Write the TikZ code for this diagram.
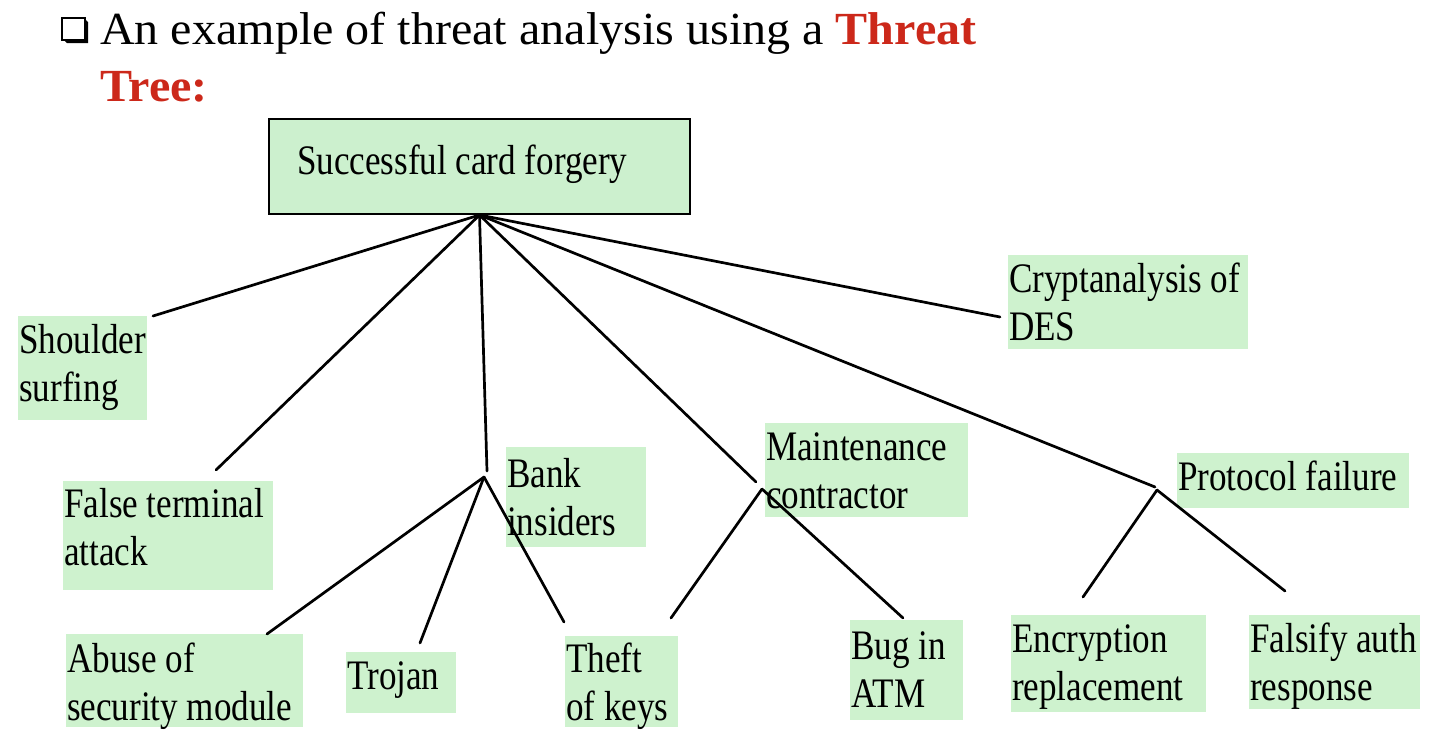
\documentclass[tikz,border=0pt]{standalone}
\usepackage{fontspec}
\setmainfont{Liberation Serif}
% condensed face for the tree labels, slightly wide face for the heading
\newfontfamily\diagfont{Liberation Serif}[FakeStretch=0.835]
\newfontfamily\headfont{Liberation Serif}[FakeStretch=1.045]
\definecolor{leaf}{RGB}{206,242,206}
\definecolor{rootfill}{RGB}{204,240,206}
\definecolor{headred}{RGB}{204,40,26}
\begin{document}
\begin{tikzpicture}[x=1pt,y=-1pt,
  plainspaces/.style={execute at begin node={\spaceskip=0pt\xspaceskip=0pt\relax}},
  leafbox/.style={fill=leaf, anchor=north west, inner xsep=1pt, inner ysep=0pt,
    align=left, plainspaces, font=\diagfont\fontsize{42}{48}\selectfont},
  link/.style={line width=2.7pt, line cap=round}]
\useasboundingbox (0,0) rectangle (1453,737);
\fill[white] (0,0) rectangle (1453,737);

% heading with its shadowed square bullet
\fill (64,40) -- (85,40) -- (85,19) -- (88,22) -- (88,43) -- (67,43) -- cycle;
\draw[line width=1.8pt] (62,18) rectangle (85,40);
\node[anchor=north west, inner sep=0pt, text width=900pt, text height=44pt,
  align=left, plainspaces, font=\headfont\fontsize{46}{57}\selectfont] (title) at (100,0)
  {An example of threat analysis using a \textcolor{headred}{\textbf{Threat}}\\
   \textcolor{headred}{\textbf{Tree:}}};

% root of the tree
\node[draw, line width=2pt, fill=rootfill, anchor=north west, inner xsep=28pt,
  inner ysep=0pt, text width=365pt, text height=55pt, text depth=40pt,
  align=left, plainspaces, font=\diagfont\fontsize{42}{48}\selectfont] (root) at (268,118)
  {Successful card forgery};

% leaves and intermediate goals
\node[leafbox, text width=127pt, text height=37pt, text depth=67pt] (shoulder) at (18,316) {Shoulder\\surfing};
\node[leafbox, text width=208pt, text height=36pt, text depth=73pt] (falseterm) at (63,481) {False terminal\\attack};
\node[leafbox, text width=138pt, text height=40pt, text depth=60pt] (bank) at (506,447) {Bank\\insiders};
\node[leafbox, text width=201pt, text height=37pt, text depth=57pt] (maint) at (765,423) {Maintenance\\contractor};
\node[leafbox, text width=230pt, text height=37pt, text depth=18pt] (protocol) at (1177,453) {Protocol failure};
\node[leafbox, text width=238pt, text height=37pt, text depth=57pt] (crypt) at (1008,255) {Cryptanalysis of\\DES};
\node[leafbox, text width=235pt, text height=38pt, text depth=55pt] (abuse) at (66,634) {Abuse of\\security module};
\node[leafbox, text width=108pt, text height=37pt, text depth=24pt] (trojan) at (346,652) {Trojan};
\node[leafbox, text width=111pt, text height=36pt, text depth=55pt] (theft) at (565,636) {Theft\\of keys};
\node[leafbox, text width=111pt, text height=39pt, text depth=61pt] (bug) at (850,620) {Bug in\\ATM};
\node[leafbox, text width=193pt, text height=37pt, text depth=60pt] (enc) at (1011,615) {Encryption\\replacement};
\node[leafbox, text width=169pt, text height=37pt, text depth=57pt] (fals) at (1249,615) {Falsify auth\\response};

% connector end points
\coordinate (shEnd) at (153,316);
\coordinate (ftEnd) at (216,470);
\coordinate (crEnd) at (1000,317);
\coordinate (bankIn) at (487,471);
\coordinate (bankOut) at (484,477);
\coordinate (maintIn) at (756,482);
\coordinate (maintOut) at (762,489);
\coordinate (protIn) at (1155,487);
\coordinate (protOut) at (1157,490);
\coordinate (abEnd) at (267,634);
\coordinate (trEnd) at (420,643);
\coordinate (thEndA) at (564,622);
\coordinate (thEndB) at (671,618);
\coordinate (bugEnd) at (903,618);
\coordinate (encEnd) at (1083,597);
\coordinate (falEnd) at (1285,591);

% branches
\draw[link] (root.south) -- (shEnd);
\draw[link] (root.south) -- (ftEnd);
\draw[link] (root.south) -- (bankIn);
\draw[link] (root.south) -- (maintIn);
\draw[link] (root.south) -- (protIn);
\draw[link] (root.south) -- (crEnd);
\draw[link] (bankOut) -- (abEnd);
\draw[link] (bankOut) -- (trEnd);
\draw[link] (bankOut) -- (thEndA);
\draw[link] (maintOut) -- (thEndB);
\draw[link] (maintOut) -- (bugEnd);
\draw[link] (protOut) -- (encEnd);
\draw[link] (protOut) -- (falEnd);
\end{tikzpicture}
\end{document}
